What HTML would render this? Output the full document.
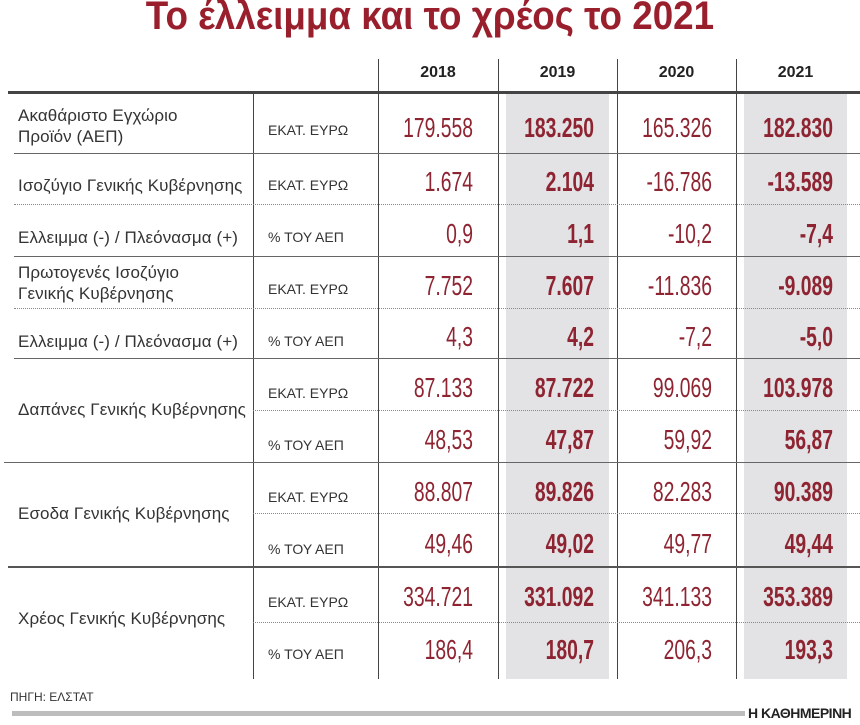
<!DOCTYPE html>
<html><head><meta charset="utf-8"><style>
body{margin:0;width:860px;height:725px;background:#fff;position:relative;overflow:hidden;font-family:"Liberation Sans",sans-serif}
.a{position:absolute}
.t{left:0;width:860px;top:-6px;text-align:center;font-size:40px;font-weight:bold;color:#9a1f2d;white-space:nowrap}
.t span{display:inline-block;transform:scaleX(0.92)}
.vl{position:absolute;width:1px;background:#444;top:59px;height:620px}
.g{position:absolute;background:#e3e3e5;top:93px;height:586px}
.hl{position:absolute;height:0;border-top:1.5px solid #666}
.dl{position:absolute;height:0;border-top:1.5px dotted #888}
.yr{position:absolute;top:64px;font-weight:bold;font-size:16px;color:#222;text-align:center}
.lb{position:absolute;left:18px;font-size:17px;color:#333;line-height:21px;letter-spacing:0.1px}
.u{position:absolute;left:268px;font-size:14px;color:#333}
.n{position:absolute;font-size:28px;color:#8e2431;text-align:right;width:140px;transform:scaleX(0.69);transform-origin:right center;line-height:30px;white-space:nowrap}
.b{font-weight:bold}
</style></head><body>
<div class="a t"><span>Το έλλειμμα και το χρέος το 2021</span></div>
<div class="g" style="left:506px;width:103px"></div>
<div class="g" style="left:744px;width:103px"></div>
<div class="vl" style="left:253px;top:92px;height:587px"></div>
<div class="vl" style="left:378px"></div>
<div class="vl" style="left:498px"></div>
<div class="vl" style="left:617px"></div>
<div class="vl" style="left:736px"></div>
<div class="a" style="left:8px;top:91px;width:852px;height:3px;background:#444"></div>
<div class="yr" style="left:378px;width:120px">2018</div>
<div class="yr" style="left:498px;width:119px">2019</div>
<div class="yr" style="left:617px;width:119px">2020</div>
<div class="yr" style="left:736px;width:119px">2021</div>

<div class="hl" style="left:14px;top:153px;width:846px"></div>
<div class="dl" style="left:14px;top:204px;width:846px"></div>
<div class="hl" style="left:14px;top:256px;width:846px"></div>
<div class="dl" style="left:14px;top:308px;width:846px"></div>
<div class="hl" style="left:14px;top:358px;width:846px"></div>
<div class="dl" style="left:253px;top:410px;width:607px"></div>
<div class="hl" style="left:4px;top:462px;width:856px"></div>
<div class="dl" style="left:253px;top:513px;width:607px"></div>
<div class="a" style="left:8px;top:566px;width:852px;height:2px;background:#555"></div>
<div class="dl" style="left:253px;top:622px;width:607px"></div>

<div class="lb" style="top:105px">Ακαθάριστο Εγχώριο<br>Προϊόν (ΑΕΠ)</div>
<div class="lb" style="top:175px">Ισοζύγιο Γενικής Κυβέρνησης</div>
<div class="lb" style="top:227px">Ελλειμμα (-) / Πλεόνασμα (+)</div>
<div class="lb" style="top:262px">Πρωτογενές Ισοζύγιο<br>Γενικής Κυβέρνησης</div>
<div class="lb" style="top:331px">Ελλειμμα (-) / Πλεόνασμα (+)</div>
<div class="lb" style="top:399px">Δαπάνες Γενικής Κυβέρνησης</div>
<div class="lb" style="top:503px">Εσοδα Γενικής Κυβέρνησης</div>
<div class="lb" style="top:608px">Χρέος Γενικής Κυβέρνησης</div>

<div class="u" style="top:122px">ΕΚΑΤ. ΕΥΡΩ</div>
<div class="u" style="top:177px">ΕΚΑΤ. ΕΥΡΩ</div>
<div class="u" style="top:229px">% ΤΟΥ ΑΕΠ</div>
<div class="u" style="top:281px">ΕΚΑΤ. ΕΥΡΩ</div>
<div class="u" style="top:333px">% ΤΟΥ ΑΕΠ</div>
<div class="u" style="top:385px">ΕΚΑΤ. ΕΥΡΩ</div>
<div class="u" style="top:437px">% ΤΟΥ ΑΕΠ</div>
<div class="u" style="top:489px">ΕΚΑΤ. ΕΥΡΩ</div>
<div class="u" style="top:541px">% ΤΟΥ ΑΕΠ</div>
<div class="u" style="top:594px">ΕΚΑΤ. ΕΥΡΩ</div>
<div class="u" style="top:646px">% ΤΟΥ ΑΕΠ</div>

<div id="nums"></div>
<script>
var rows=[[113,"179.558","183.250","165.326","182.830"],
[167,"1.674","2.104","-16.786","-13.589"],
[219,"0,9","1,1","-10,2","-7,4"],
[271,"7.752","7.607","-11.836","-9.089"],
[322,"4,3","4,2","-7,2","-5,0"],
[373,"87.133","87.722","99.069","103.978"],
[425,"48,53","47,87","59,92","56,87"],
[477,"88.807","89.826","82.283","90.389"],
[529,"49,46","49,02","49,77","49,44"],
[582,"334.721","331.092","341.133","353.389"],
[635,"186,4","180,7","206,3","193,3"]];
var rx=[473,594,712,833],h="";
rows.forEach(function(r){for(var i=0;i<4;i++){h+='<div class="n'+(i%2?' b':'')+'" style="top:'+r[0]+'px;left:'+(rx[i]-140)+'px">'+r[i+1]+'</div>';}});
document.getElementById("nums").innerHTML=h;
</script>

<div class="a" style="left:10px;top:690px;font-size:12px;color:#333">ΠΗΓΗ: ΕΛΣΤΑΤ</div>
<div class="a" style="left:12px;top:711px;width:733px;height:5px;background:#bdbdbd"></div>
<div class="a" style="left:748px;top:705px;font-size:14px;font-weight:bold;color:#222;letter-spacing:-0.5px">Η ΚΑΘΗΜΕΡΙΝΗ</div>
</body></html>
